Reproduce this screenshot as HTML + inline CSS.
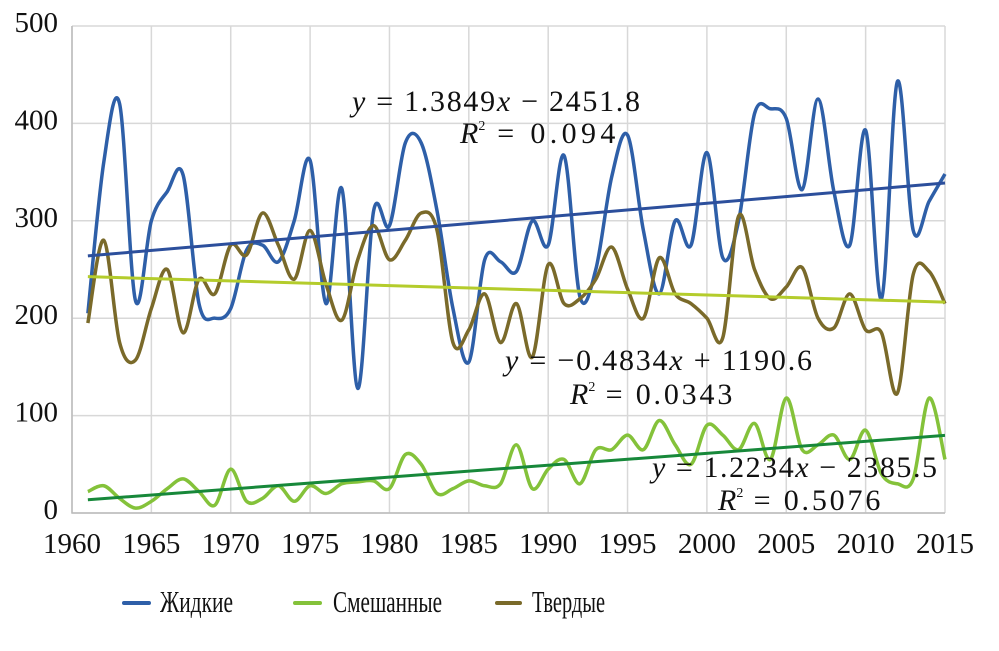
<!DOCTYPE html>
<html><head><meta charset="utf-8"><style>
body{margin:0;background:#fff;}
svg{display:block;font-family:"Liberation Serif",serif;}
</style></head><body>
<svg id="chart" width="999" height="651" viewBox="0 0 999 651">
<g id="grid"></g>
<g id="axes"></g>
<g id="series"></g>
<g font-size="30" fill="#111">
<text x="352" y="111" textLength="288" lengthAdjust="spacing"><tspan font-style="italic">y</tspan> = 1.3849<tspan font-style="italic">x</tspan> − 2451.8</text>
<text x="460" y="143"><tspan font-style="italic">R</tspan><tspan font-size="14" dy="-13">2</tspan><tspan dy="13" textLength="130" lengthAdjust="spacing"> = 0.094</tspan></text>
<text x="505" y="370" textLength="307" lengthAdjust="spacing"><tspan font-style="italic">y</tspan> = −0.4834<tspan font-style="italic">x</tspan> + 1190.6</text>
<text x="570" y="404"><tspan font-style="italic">R</tspan><tspan font-size="14" dy="-13">2</tspan><tspan dy="13" textLength="137" lengthAdjust="spacing"> = 0.0343</tspan></text>
<text x="652" y="477" textLength="285" lengthAdjust="spacing"><tspan font-style="italic">y</tspan> = 1.2234<tspan font-style="italic">x</tspan> − 2385.5</text>
<text x="718" y="510"><tspan font-style="italic">R</tspan><tspan font-size="14" dy="-13">2</tspan><tspan dy="13" textLength="137" lengthAdjust="spacing"> = 0.5076</tspan></text>
</g>
<g font-size="31" fill="#111">
<g><line x1="124" y1="603" x2="149" y2="603" stroke="#2e5fa8" stroke-width="4" stroke-linecap="round"/><text x="160" y="612" textLength="73" lengthAdjust="spacingAndGlyphs">Жидкие</text></g>
<g><line x1="295" y1="603" x2="320" y2="603" stroke="#84c23a" stroke-width="4" stroke-linecap="round"/><text x="333" y="612" textLength="109" lengthAdjust="spacingAndGlyphs">Смешанные</text></g>
<g><line x1="497" y1="603" x2="520" y2="603" stroke="#7a6a2a" stroke-width="4" stroke-linecap="round"/><text x="532" y="612" textLength="73" lengthAdjust="spacingAndGlyphs">Твердые</text></g>
</g>
</svg>
<script>
const years=[];for(let y=1961;y<=2015;y++)years.push(y);
const liquid=[205,360,420,218,300,330,347,215,200,210,270,275,258,300,362,215,333,128,310,295,380,380,310,210,155,260,258,248,300,275,367,222,250,345,388,290,225,300,275,370,262,300,410,415,405,332,425,330,275,393,220,443,290,320,348];
const solid=[195,280,175,157,210,250,185,240,225,275,265,308,275,240,290,235,198,260,295,260,280,308,290,175,188,225,175,215,160,255,215,220,240,273,230,200,262,225,215,200,180,305,250,220,232,252,200,190,225,188,185,123,245,248,215];
const mixed=[22,28,15,5,12,25,35,22,8,45,12,15,28,12,28,20,30,32,33,25,60,50,20,25,33,28,30,70,25,45,55,30,65,65,80,65,95,70,50,90,80,65,92,55,118,65,70,80,55,85,40,30,35,118,55];
const xTicks=[1960,1965,1970,1975,1980,1985,1990,1995,2000,2005,2010,2015];
const yTicks=[0,100,200,300,400,500];
const trends=[{name:'trend-liquid',a:1.3849,b:-2451.8,c:'#2c4f9c'},{name:'trend-solid',a:-0.4834,b:1190.6,c:'#b4cc2c'},{name:'trend-mixed',a:1.2234,b:-2385.5,c:'#17883a'}];
const NS='http://www.w3.org/2000/svg';
const X=v=>72+(v-1960)*(945-72)/55;
const Y=v=>513-v*(513-26)/500;
function mk(t,attrs,parent){const e=document.createElementNS(NS,t);for(const k in attrs)e.setAttribute(k,attrs[k]);parent.appendChild(e);return e;}
const grid=document.getElementById('grid'),axes=document.getElementById('axes'),ser=document.getElementById('series');
xTicks.forEach(t=>{
 const l=mk('line',{x1:X(t),x2:X(t),y1:Y(500),y2:Y(0),stroke:'#d8d8d8','stroke-width':1.5},grid);
 
 
 const tx=mk('text',{x:X(t),y:553,'text-anchor':'middle','font-size':29,fill:'#111'},axes);
 tx.textContent=t;
 
 
});
yTicks.forEach(t=>{
 const l=mk('line',{x1:X(1960),x2:X(2015),y1:Y(t),y2:Y(t),stroke:'#d8d8d8','stroke-width':1.5},grid);
 
 
 const tx=mk('text',{x:58,y:Y(t)+6,'text-anchor':'end','font-size':29,fill:'#111'},axes);
 tx.textContent=t;
 
 
});
const ax=mk('polyline',{points:`${X(1960)},${Y(500)} ${X(1960)},${Y(0)} ${X(2015)},${Y(0)}`,fill:'none',stroke:'#bbb','stroke-width':1.5},axes);


function smooth(vals){
 const p=vals.map((v,i)=>[X(years[i]),Y(v)]);
 let d=`M${p[0][0]},${p[0][1]}`;
 for(let i=0;i<p.length-1;i++){
  const p0=p[i-1]||p[i],p1=p[i],p2=p[i+1],p3=p[i+2]||p2;
  const c1=[p1[0]+(p2[0]-p0[0])/6,p1[1]+(p2[1]-p0[1])/6],c2=[p2[0]-(p3[0]-p1[0])/6,p2[1]-(p3[1]-p1[1])/6];
  d+=` C${c1[0]},${c1[1]} ${c2[0]},${c2[1]} ${p2[0]},${p2[1]}`;
 }
 return d;
}
[[liquid,'#2e5fa8','line-liquid'],[solid,'#7a6a2a','line-solid'],[mixed,'#84c23a','line-mixed']].forEach(([v,c,n])=>{
 const p=mk('path',{d:smooth(v),fill:'none',stroke:c,'stroke-width':3.5,'stroke-linejoin':'round'},ser);
 
 
});
trends.forEach(t=>{
 const x0=years[0],x1=years[years.length-1];
 const l=mk('line',{x1:X(x0),y1:Y(t.a*x0+t.b),x2:X(x1),y2:Y(t.a*x1+t.b),stroke:t.c,'stroke-width':3},ser);
 
 
});
</script>
</body></html>
